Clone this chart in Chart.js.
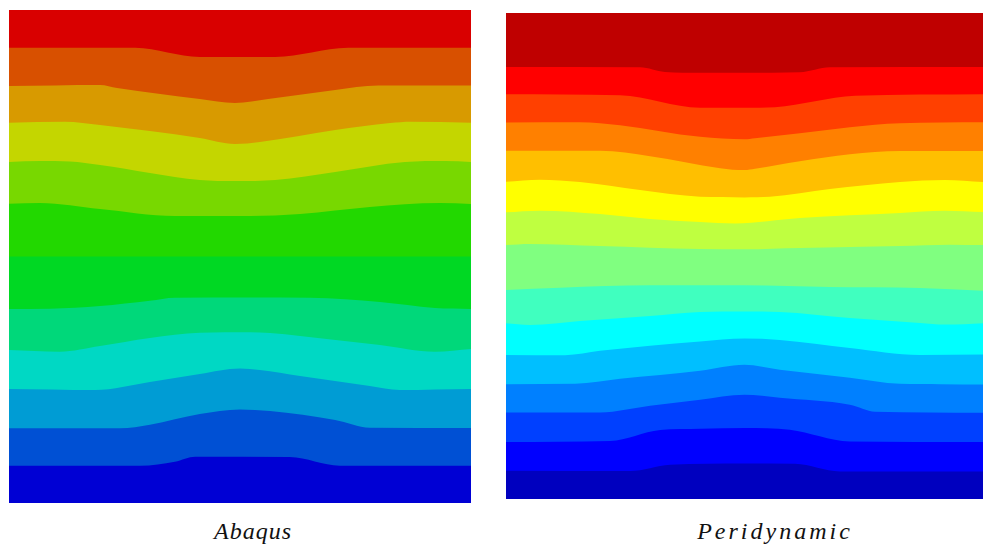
<!DOCTYPE html>
<html>
<head>
<meta charset="utf-8">
<script src="https://cdn.jsdelivr.net/npm/chart.js@4"></script>
<style>
  html, body { margin: 0; padding: 0; background: #fff; }
  body { width: 984px; height: 547px; position: relative; overflow: hidden; }
  .panel { position: absolute; }
  .caption {
    position: absolute; top: 518px; text-align: center;
    font-family: "Liberation Serif", "DejaVu Serif", serif; font-style: italic;
    font-size: 24px; color: #111; white-space: nowrap;
  }
</style>
</head>
<body>
<div class="panel" id="wrapA" style="left:9px;top:10px;width:462px;height:493px;"><canvas id="abaqus"></canvas></div>
<div class="panel" id="wrapP" style="left:506px;top:13px;width:477px;height:486px;"><canvas id="peri"></canvas></div>
<div class="caption" id="capA" style="left:153px;width:200px;letter-spacing:1px;">Abaqus</div>
<div class="caption" id="capP" style="left:675px;width:200px;letter-spacing:3px;">Peridynamic</div>
<script>
// Plate coordinates: x and y both run 0..100 across the specimen, y = 0 at the bottom edge.
// Each contour line is a list of [x, y] points; bands are listed from the top down.

// Abaqus result: 12 colour levels, 11 contour lines (top to bottom)
const abaqusLevels = [
  [[0,92.35],[27.3,92.35],[41.3,90.47],[57.6,90.47],[73.4,92.35],[100,92.35]],
  [[0,84.58],[19.7,84.79],[23.4,84.18],[41.3,81.95],[48.9,81.14],[56.1,81.95],[70.6,83.77],[79.9,84.69],[100,84.69]],
  [[0,77.14],[12.1,77.34],[19.7,76.67],[41.3,74.04],[48.9,72.82],[54.3,73.23],[70.6,75.66],[82.5,77.08],[87.0,77.34],[100,77.14]],
  [[0,69.17],[6.7,69.37],[13.2,69.27],[19.7,68.56],[41.3,65.52],[48.9,65.31],[57.6,65.52],[70.6,67.14],[85.7,69.17],[94.4,69.37],[100,69.17]],
  [[0,60.71],[6.7,60.85],[19.7,59.63],[35.9,58.22],[52.2,58.22],[63.0,58.62],[78.1,60.04],[93.3,60.85],[100,60.65]],
  [[0,50.0],[100,50.0]],
  [[0,39.35],[8.9,39.41],[19.7,39.96],[30.5,41.03],[35.9,41.64],[52.2,41.68],[65.2,41.64],[80.3,40.77],[92.2,39.55],[100,39.35]],
  [[0,31.03],[11.0,30.69],[19.7,31.85],[30.5,33.47],[41.3,34.54],[52.2,34.65],[56.5,34.48],[63.0,33.87],[80.3,32.05],[92.2,30.69],[100,31.24]],
  [[0,23.12],[18.6,22.92],[30.5,24.54],[41.3,26.17],[50.0,27.28],[54.3,26.98],[63.0,25.76],[78.1,23.73],[84.6,22.92],[100,23.12]],
  [[0,15.15],[24.0,15.15],[30.5,15.88],[41.3,18.05],[50.0,18.97],[56.5,18.66],[70.6,16.84],[78.1,15.27],[100,15.21]],
  [[0,7.57],[28.4,7.57],[35.9,8.38],[40.3,9.39],[60.8,9.33],[71.6,7.57],[100,7.57]]
];
const abaqusColors = [
  '#d90000','#d85000','#d89a00','#c4d600','#78d800','#22d800',
  '#00d823','#00d87a','#00d8c4','#009cd4','#0050d4','#0000d4'
];

// Peridynamic result: 15 colour levels, 14 contour lines (top to bottom)
const periLevels = [
  [[0,88.9],[28.1,88.84],[33.3,87.88],[40.7,87.72],[50,87.7],[61.6,87.81],[67.9,88.84],[100,88.9]],
  [[0,83.29],[23.9,83.09],[40.7,80.52],[50,80.5],[56.4,80.62],[73.2,82.95],[100,83.29]],
  [[0,77.48],[15.5,77.54],[23.9,76.92],[40.7,74.52],[50,74.04],[52.2,74.25],[61.6,75.28],[82.6,77.34],[100,77.54]],
  [[0,71.64],[19.7,71.64],[30.2,70.55],[44.9,68.08],[50,67.67],[52.2,67.94],[61.6,69.52],[82.6,71.58],[100,71.58]],
  [[0,65.27],[7.1,65.68],[15.5,65.21],[28.1,63.56],[40.7,62.19],[50,62.06],[55.3,62.19],[67.9,63.77],[82.6,65.21],[92.0,65.62],[100,65.21]],
  [[0,58.98],[7.1,59.31],[19.7,58.63],[30.2,57.61],[40.7,56.99],[48,56.7],[61.6,57.81],[82.6,58.84],[92.0,59.31],[100,59.04]],
  [[0,52.26],[5,52.47],[19.7,52.06],[40.7,51.44],[50,51.38],[61.6,51.65],[82.6,52.06],[93.1,52.33],[100,52.26]],
  [[0,43.01],[11.3,43.49],[30.2,43.98],[50,44.0],[67.9,43.63],[86.8,43.42],[100,42.87]],
  [[0,36.17],[5,35.82],[15.5,36.64],[30.2,37.67],[40.7,38.49],[50,38.6],[57.4,38.49],[72.1,37.26],[86.8,36.23],[92,35.88],[100,36.17]],
  [[0,29.65],[12.4,29.59],[19.7,30.48],[40.7,32.39],[50,33.0],[57.4,32.74],[72.1,31.09],[86.8,29.65],[100,29.72]],
  [[0,23.63],[14.5,23.70],[23.9,24.72],[40.7,26.37],[50,27.6],[57.4,26.57],[72.1,24.93],[82.6,23.70],[100,23.55]],
  [[0,17.8],[19.7,17.8],[30.2,19.17],[40.7,20.41],[50,21.43],[57.4,20.82],[72.1,19.38],[77.4,17.94],[100,17.74]],
  [[0,11.71],[21.8,11.92],[32.3,14.18],[40.7,14.45],[50,14.6],[59.5,14.24],[72.1,11.84],[100,11.71]],
  [[0,5.82],[26.0,5.75],[34.4,7.05],[50,7.3],[60.6,7.25],[70.0,5.67],[100,5.67]]
];
const periColors = [
  '#bf0000','#ff0000','#ff4000','#ff8000','#ffbf00','#ffff00','#bfff40','#80ff80',
  '#40ffbf','#00ffff','#00bfff','#0080ff','#0040ff','#0000ff','#0000bf'
];

const bottomEdge = [[0,0],[100,0]];

// Each band fills from its lower contour up to the top of the plate;
// the top band gets the lowest order so it is painted last, over the ones below.
function bandDatasets(levels, colors) {
  const lowers = levels.concat([bottomEdge]);
  return colors.map((c, i) => ({
    data: lowers[i].map(p => ({ x: p[0], y: p[1] })),
    backgroundColor: c,
    borderColor: 'rgba(0,0,0,0)',
    borderWidth: 0,
    pointRadius: 0,
    cubicInterpolationMode: 'monotone',
    fill: 'end',
    order: i
  }));
}

function contourChart(id, levels, colors) {
  new Chart(document.getElementById(id), {
    type: 'line',
    data: { datasets: bandDatasets(levels, colors) },
    options: {
      responsive: true,
      maintainAspectRatio: false,
      animation: false,
      layout: { padding: 0 },
      plugins: { legend: { display: false }, tooltip: { enabled: false }, filler: { drawTime: 'beforeDatasetDraw' } },
      scales: {
        x: { type: 'linear', min: 0, max: 100, display: false },
        y: { type: 'linear', min: 0, max: 100, display: false }
      }
    }
  });
}

contourChart('abaqus', abaqusLevels, abaqusColors);
contourChart('peri', periLevels, periColors);
</script>
</body>
</html>
